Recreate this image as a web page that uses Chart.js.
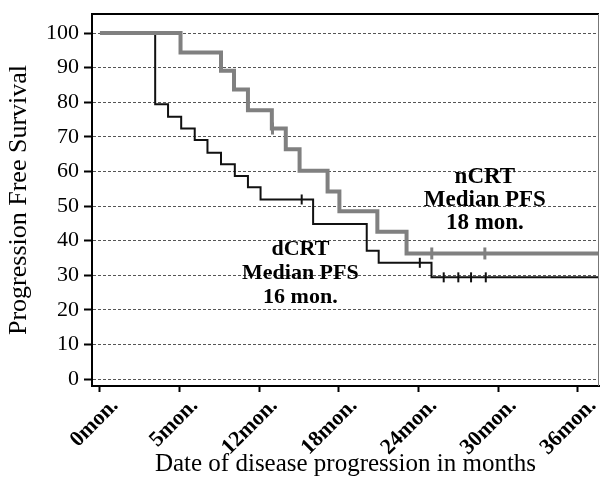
<!DOCTYPE html>
<html>
<head>
<meta charset="utf-8">
<script src="https://cdn.jsdelivr.net/npm/chart.js@4/dist/chart.umd.min.js"></script>
<style>
  body { margin: 0; background: #fff; }
  canvas { display: block; }
</style>
</head>
<body>
<canvas id="pfsChart" width="608" height="477"></canvas>
<script>
// tick values and labels
const xTickValues = [0, 6, 12, 18, 24, 30, 36];
const xTickLabels = ["0mon.", "5mon.", "12mon.", "18mon.", "24mon.", "30mon.", "36mon."];
const yTickValues = [0, 10, 20, 30, 40, 50, 60, 70, 80, 90, 100];

// nCRT curve (months, % free of progression)
const ncrtMonths = [0, 6.07, 9.12, 10.1, 11.15, 12.95, 14.0, 15.04, 17.15, 18.04, 20.9, 23.1, 37.6];
const ncrtSurvival = [100, 94.4, 89.1, 83.7, 77.7, 72.4, 66.4, 60.2, 54.2, 48.5, 42.6, 36.3, 36.3];
const ncrtCensorMonths = [13.0, 25.0, 29.0];
const ncrtCensorSurvival = [72.4, 36.3, 36.3];

// dCRT curve
const dcrtMonths = [0, 4.16, 5.13, 6.12, 7.14, 8.1, 9.12, 10.16, 11.15, 12.1, 16.06, 20.1, 21.0, 24.98, 37.6];
const dcrtSurvival = [100, 79.4, 75.8, 72.4, 69.1, 65.4, 62.1, 58.7, 55.4, 51.9, 44.8, 37.1, 33.6, 29.4, 29.4];
const dcrtCensorMonths = [15.2, 24.1, 25.9, 27.0, 27.96, 29.07];
const dcrtCensorSurvival = [51.9, 33.6, 29.4, 29.4, 29.4, 29.4];

function toPoints(xs, ys) {
  return xs.map((x, i) => ({ x: x, y: ys[i] }));
}

// median labels drawn inside the plot
const medianNotes = {
  id: "medianNotes",
  afterDatasetsDraw(chart) {
    const ctx = chart.ctx;
    const xs = chart.scales.x;
    const ys = chart.scales.y;
    const notes = [
      { lines: ["nCRT", "Median PFS", "18 mon."], x: 29.0, y: 51.7, gap: 23, size: 23 },
      { lines: ["dCRT", "Median PFS", "16 mon."], x: 15.1, y: 30.6, gap: 24, size: 22 },
    ];
    ctx.save();
    ctx.fillStyle = "#000";
    ctx.textAlign = "center";
    ctx.textBaseline = "middle";
    notes.forEach((n) => {
      const px = xs.getPixelForValue(n.x);
      const py = ys.getPixelForValue(n.y);
      ctx.font = "bold " + n.size + "px 'Liberation Serif', serif";
      n.lines.forEach((t, i) => {
        ctx.fillText(t, px, py + (i - 1) * n.gap);
      });
    });
    ctx.restore();
  },
};

// top and right edges of the plot box
const plotFrame = {
  id: "plotFrame",
  afterDraw(chart) {
    const a = chart.chartArea;
    const ctx = chart.ctx;
    ctx.save();
    ctx.strokeStyle = "#000";
    ctx.lineWidth = 2;
    ctx.beginPath();
    ctx.moveTo(a.left - 1, a.top);
    ctx.lineTo(a.right, a.top);
    ctx.stroke();
    ctx.strokeStyle = "#777";
    ctx.lineWidth = 1;
    ctx.beginPath();
    ctx.moveTo(a.right - 0.5, a.top);
    ctx.lineTo(a.right - 0.5, a.bottom);
    ctx.stroke();
    ctx.restore();
  },
};

document.addEventListener("DOMContentLoaded", function () {
  Chart.defaults.font.family = "'Liberation Serif', 'Times New Roman', serif";
  Chart.defaults.color = "#000";

  const ctx = document.getElementById("pfsChart").getContext("2d");
  new Chart(ctx, {
    type: "line",
    data: {
      datasets: [
        {
          label: "nCRT",
          data: toPoints(ncrtMonths, ncrtSurvival),
          stepped: "before",
          borderColor: "#808080",
          borderWidth: 4,
          pointRadius: 0,
          fill: false,
        },
        {
          label: "dCRT",
          data: toPoints(dcrtMonths, dcrtSurvival),
          stepped: "before",
          borderColor: "#111",
          borderWidth: 2,
          pointRadius: 0,
          fill: false,
        },
        {
          label: "nCRT censored",
          data: toPoints(ncrtCensorMonths, ncrtCensorSurvival),
          showLine: false,
          pointStyle: "line",
          rotation: 90,
          pointRadius: 6,
          pointBorderWidth: 3,
          borderColor: "#808080",
        },
        {
          label: "dCRT censored",
          data: toPoints(dcrtCensorMonths, dcrtCensorSurvival),
          showLine: false,
          pointStyle: "line",
          rotation: 90,
          pointRadius: 5,
          pointBorderWidth: 2,
          borderColor: "#111",
        },
      ],
    },
    options: {
      responsive: false,
      animation: false,
      devicePixelRatio: 1,
      layout: { padding: { top: 14, right: 2, left: 0, bottom: 0 } },
      plugins: {
        legend: { display: false },
        tooltip: { enabled: false },
      },
      scales: {
        x: {
          type: "linear",
          min: -0.6,
          max: 37.6,
          afterBuildTicks: (scale) => {
            scale.ticks = xTickValues.map((v) => ({ value: v }));
          },
          afterFit: (scale) => {
            scale.height = 91;
          },
          ticks: {
            autoSkip: false,
            minRotation: 45,
            maxRotation: 45,
            padding: 1,
            labelOffset: 15,
            font: { size: 22, weight: "bold" },
            callback: (value, index) => xTickLabels[index],
          },
          grid: {
            drawOnChartArea: false,
            tickLength: 6,
            tickWidth: 2,
            tickColor: "#000",
          },
          border: { color: "#000", width: 2 },
          title: {
            display: true,
            text: "Date of disease progression in months",
            font: { size: 25, lineHeight: 1 },
            padding: { top: 0, bottom: 0 },
          },
        },
        y: {
          min: -2,
          max: 105.5,
          afterBuildTicks: (scale) => {
            scale.ticks = yTickValues.map((v) => ({ value: v }));
          },
          afterFit: (scale) => {
            scale.width = 92;
            scale.paddingTop = 0;
            scale.paddingBottom = 0;
          },
          ticks: {
            autoSkip: false,
            padding: 5,
            font: { size: 22 },
          },
          grid: {
            color: "#555",
            lineWidth: 1,
            tickLength: 8,
            tickWidth: 2,
            tickColor: "#000",
          },
          border: { color: "#000", width: 2, dash: [3, 2] },
          title: {
            display: true,
            text: "Progression Free Survival",
            font: { size: 26, lineHeight: 1 },
            padding: { top: 6, bottom: 0 },
          },
        },
      },
    },
    plugins: [medianNotes, plotFrame],
  });
});
</script>
</body>
</html>
